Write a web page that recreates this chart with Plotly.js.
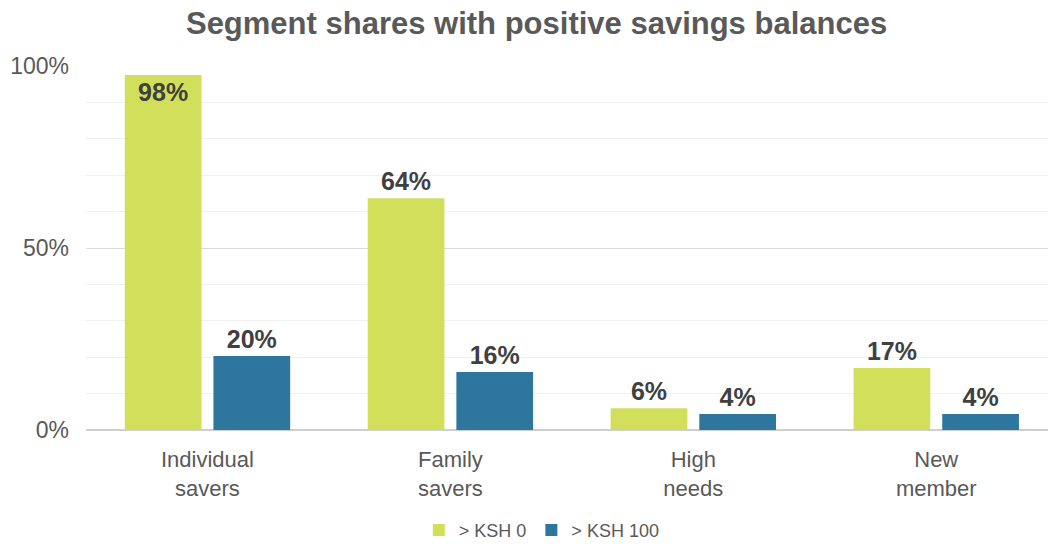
<!DOCTYPE html>
<html>
<head>
<meta charset="utf-8">
<script src="https://cdn.plot.ly/plotly-3.0.1.min.js"></script>
<style>html,body{margin:0;padding:0;background:#fff;}#chart{width:1048px;height:544px;}</style>
</head>
<body>
<div id="chart"></div>
<script>
const categories = ["Individual<br>savers", "Family<br>savers", "High<br>needs", "New<br>member"];
const seriesNames = ["> KSH 0", "> KSH 100"];
const ksh0 = [0.975, 0.637, 0.06, 0.17];
const ksh100 = [0.203, 0.159, 0.044, 0.044];
const ksh0Labels = ["98%", "64%", "6%", "17%"];
const ksh100Labels = ["20%", "16%", "4%", "4%"];
const yTickVals = [0, 0.5, 1];
const yTickText = ["0%", "50%", "100%"];

const labelFont = {family: "Liberation Sans, Arial, sans-serif", size: 25, color: "#404040", weight: "bold"};

const traces = [
  {
    type: "bar", name: seriesNames[0], x: categories, y: ksh0,
    marker: {color: "#d1df5a"},
    text: ksh0Labels, textposition: ["inside", "outside", "outside", "outside"],
    insidetextanchor: "end", textangle: 0,
    textfont: labelFont, insidetextfont: labelFont, outsidetextfont: labelFont,
    constraintext: "none",
    cliponaxis: false, hoverinfo: "none"
  },
  {
    type: "bar", name: seriesNames[1], x: categories, y: ksh100,
    marker: {color: "#2e769e"},
    text: ksh100Labels, textposition: "outside", textangle: 0,
    textfont: labelFont, outsidetextfont: labelFont,
    constraintext: "none",
    cliponaxis: false, hoverinfo: "none"
  }
];

const layout = {
  width: 1048, height: 544,
  margin: {l: 86, r: 0, t: 66, b: 114, autoexpand: false},
  paper_bgcolor: "#ffffff", plot_bgcolor: "#ffffff",
  font: {family: "Liberation Sans, Arial, sans-serif", color: "#595959"},
  title: {
    text: "<b>Segment shares with positive savings balances</b>",
    font: {size: 31, color: "#595959", family: "Liberation Sans, Arial, sans-serif"},
    x: 0.512, xanchor: "center", xref: "container", y: 0.958, yanchor: "middle"
  },
  barmode: "group", bargap: 0.27, bargroupgap: 0.135,
  xaxis: {
    type: "category", range: [-0.5, 3.46], automargin: false,
    tickfont: {size: 22, color: "#595959"},
    ticklabelstandoff: 14,
    showgrid: false, zeroline: false, showline: false, ticks: ""
  },
  yaxis: {
    range: [0, 1], tickvals: yTickVals, ticktext: yTickText, automargin: false,
    tickfont: {size: 23, color: "#595959"},
    ticklabelstandoff: 16,
    showgrid: true, gridcolor: "#d9d9d9", gridwidth: 1,
    zeroline: true, zerolinecolor: "#cfcfcf", zerolinewidth: 1.5,
    ticks: "", ticklen: 0, showline: false,
    minor: {dtick: 0.1, tick0: 0, showgrid: true, gridcolor: "#f0f0f0", gridwidth: 1, ticks: ""}
  },
  legend: {
    orientation: "h", xref: "container", x: 0.517, xanchor: "center",
    yref: "paper", y: -0.225, yanchor: "top",
    font: {size: 18, color: "#595959"}, traceorder: "normal",
    itemwidth: 30
  },
  showlegend: true
};

Plotly.newPlot("chart", traces, layout, {displayModeBar: false, staticPlot: true});
</script>
</body>
</html>
